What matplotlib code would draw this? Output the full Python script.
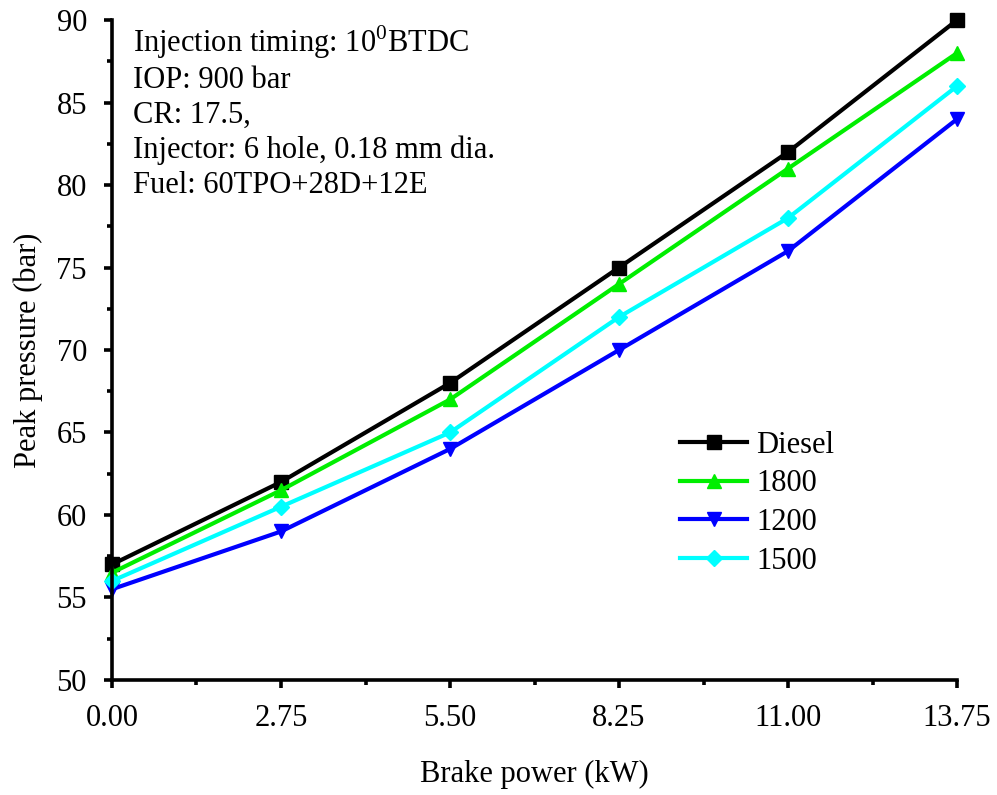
import matplotlib
matplotlib.use("Agg")
import matplotlib.pyplot as plt
from matplotlib.ticker import MultipleLocator

plt.rcParams['font.family'] = ['Liberation Serif', 'DejaVu Serif']
plt.rcParams['mathtext.fontset'] = 'custom'
plt.rcParams['mathtext.rm'] = 'Liberation Serif'

brake_power = [0.0, 2.75, 5.5, 8.25, 11.0, 13.75]
diesel = [57, 62, 68, 75, 82, 90]
s1800 = [56.5, 61.5, 67, 74, 81, 88]
s1200 = [55.5, 59, 64, 70, 76, 84]
s1500 = [56, 60.5, 65, 72, 78, 86]
xtick_labels = ["0.00", "2.75", "5.50", "8.25", "11.00", "13.75"]

series = [
    ("Diesel", diesel, "black", "s"),
    ("1800", s1800, "#00ee00", "^"),
    ("1200", s1200, "#0000ff", "v"),
    ("1500", s1500, "#00ffff", "D"),
]

FS = 22

fig = plt.figure(figsize=(9.97, 7.95), dpi=100)
ax = fig.add_axes([0.1123, 0.1447, 0.8477, 0.8301])

for name, vals, col, mk in series:
    ms = 10 if mk != "D" else 8.5
    ax.plot(brake_power, vals, color=col, lw=3, marker=mk, ms=ms, label=name, clip_on=False)

ax.set_xlim(0, 13.75)
ax.set_ylim(50, 90)
ax.set_xticks(brake_power)
ax.set_xticklabels(xtick_labels)
ax.xaxis.set_minor_locator(MultipleLocator(1.375))
ax.yaxis.set_major_locator(MultipleLocator(5))
ax.yaxis.set_minor_locator(MultipleLocator(2.5))

for s in ["top", "right"]:
    ax.spines[s].set_visible(False)
for s in ["left", "bottom"]:
    ax.spines[s].set_linewidth(2.6)

ax.tick_params(which="major", direction="out", length=6, width=2.6, labelsize=FS)
ax.tick_params(axis="x", which="major", pad=11)
ax.tick_params(axis="y", which="major", pad=12)
ax.tick_params(which="minor", direction="out", length=3.5, width=2.6)

ax.set_xlabel("Brake power (kW)", fontsize=FS, labelpad=20)
ax.set_ylabel("Peak pressure (bar)", fontsize=FS, labelpad=10)

info = ("Injection timing: 10$^0$BTDC\nIOP: 900 bar\nCR: 17.5,\n"
        "Injector: 6 hole, 0.18 mm dia.\nFuel: 60TPO+28D+12E")
ax.text(0.025, 0.995, info, transform=ax.transAxes, fontsize=FS, va="top", ha="left",
        linespacing=1.25)

leg = ax.legend(loc="upper left", bbox_to_anchor=(0.672, 0.378), frameon=False, fontsize=FS,
                handlelength=2.2, labelspacing=0.32, handletextpad=0.3,
                borderaxespad=0, borderpad=0)

fig.savefig("out.png", dpi=100)
